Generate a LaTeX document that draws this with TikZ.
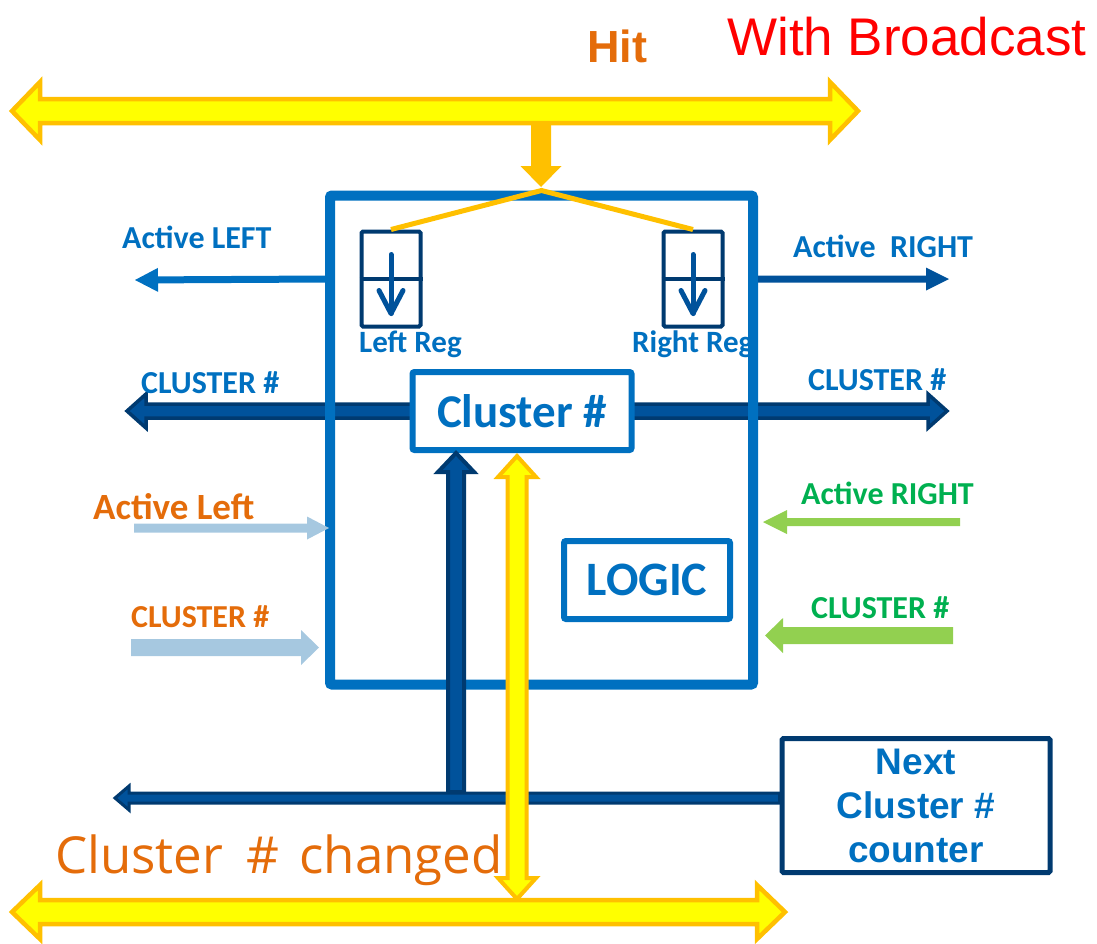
\documentclass[tikz,border=0pt]{standalone}
\usepackage{fontspec}
\setmainfont{Carlito}
\newfontfamily\arialfont{Liberation Sans}
\newfontfamily\humanist{Open Sans}
\usetikzlibrary{calc,arrows.meta}

\definecolor{boxblue}{HTML}{0070C0}
\definecolor{navy}{HTML}{003A70}
\definecolor{midblue}{HTML}{00529B}
\definecolor{busyellow}{HTML}{FFFF00}
\definecolor{busorange}{HTML}{FFC000}
\definecolor{txtorange}{HTML}{E46C0A}
\definecolor{paleblue}{HTML}{A6C8E0}
\definecolor{txtgreen}{HTML}{00B050}
\definecolor{palegreen}{HTML}{92D050}

\newcommand\fs[1]{\fontsize{#1}{#1}\selectfont}

% block arrow with one head: [style]{from}{to}{shaft half width}{head half width}{head length}
\newcommand\sarrow[6][]{%
  \coordinate (saC) at ($(#3)!#6!(#2)$);
  \path[#1] ($(#2)!#4!90:(#3)$) -- ($(saC)!#4!-90:(#2)$) -- ($(saC)!#5!-90:(#2)$) -- (#3)
    -- ($(saC)!#5!90:(#2)$) -- ($(saC)!#4!90:(#2)$) -- ($(#2)!#4!-90:(#3)$) -- cycle;}

% block arrow with heads at both ends
\newcommand\darrow[6][]{%
  \coordinate (daA) at ($(#2)!#6!(#3)$);
  \coordinate (daB) at ($(#3)!#6!(#2)$);
  \path[#1] (#2) -- ($(daA)!#5!90:(#3)$) -- ($(daA)!#4!90:(#3)$) -- ($(daB)!#4!-90:(#2)$)
    -- ($(daB)!#5!-90:(#2)$) -- (#3) -- ($(daB)!#5!90:(#2)$) -- ($(daB)!#4!90:(#2)$)
    -- ($(daA)!#4!-90:(#3)$) -- ($(daA)!#5!-90:(#3)$) -- cycle;}

% register with its shift arrow: name, centre
\newcommand\register[2]{%
  \node[regbox] (#1) at (#2) {};
  \draw[navy, line width=4pt] (#1.west) -- (#1.east);
  \draw[regarrow] ($(#1.north)+(0,25)$) -- ($(#1.south)+(0,-15)$);
  \draw[regarrow] ($(#1.south)+(-12,-38)$) -- ($(#1.south)+(0,-15)$) -- ($(#1.south)+(12,-38)$);}

\tikzset{
  yellowbus/.style={fill=busyellow, draw=busorange, line width=4.5pt},
  darkbus/.style={fill=midblue, draw=navy, line width=4pt},
  lbl/.style={inner sep=0pt, anchor=base west},
  regbox/.style={draw=navy, line width=4pt, rounded corners=1.5pt, minimum width=59pt, minimum height=95pt, inner sep=0pt},
  regarrow/.style={draw=midblue, line width=5pt, line cap=round, line join=round},
  framebox/.style={draw=boxblue, line width=6pt, rounded corners=2pt, fill=white, inner sep=0pt, text=boxblue},
}

\begin{document}
\begin{tikzpicture}[x=1pt, y=-1pt]
\useasboundingbox (0,0) rectangle (1097,943);

% ---------- headings ----------
\node[inner sep=0pt, anchor=base, text=txtorange] (hit) at (617,62) {\arialfont\bfseries\fs{45}Hit};
\node[lbl, text=red] (bcast) at (727,55) {\arialfont\fs{53}With Broadcast};

% ---------- registers ----------
\register{lreg}{391,279}
\register{rreg}{693,279}
\node[lbl, text=boxblue] (lregl) at (359,352) {\bfseries\fs{31}Left Reg};
\node[lbl, text=boxblue] (rregl) at (632,352) {\bfseries\fs{31}Right Reg};

% cluster number buses leaving the cell (under the frame)
\coordinate (clusterL) at (127,411);
\coordinate (clusterR) at (947,411);
\coordinate (clW) at (413,411);
\coordinate (clE) at (631,411);
\sarrow[darkbus, line width=3.5pt]{clW}{clusterL}{7pt}{17pt}{19pt}
\sarrow[darkbus, line width=3.5pt]{clE}{clusterR}{7pt}{17pt}{19pt}

% cell frame
\node[draw=boxblue, line width=10pt, rounded corners=2pt, minimum width=423pt, minimum height=489pt, inner sep=0pt] (core) at (541.5,440) {};

% hit fan-out to the registers
\draw[busorange, line width=5pt, line join=miter] (lreg.north) -- (core.north) -- (rreg.north);

\node[framebox, minimum width=219pt, minimum height=78pt] (cl) at (522,411) {\bfseries\fs{47}Cluster \#};
\node[framebox, minimum width=166pt, minimum height=78pt] (logic) at (647,580) {\bfseries\fs{48}LOGIC};

\node[draw=navy, line width=5pt, rounded corners=1.5pt, minimum width=268pt, minimum height=134pt, inner sep=0pt,
      text=boxblue, align=center, font=\arialfont\bfseries\fontsize{37}{44}\selectfont] (next) at (916,805.5)
      {Next\\Cluster \#\\counter};

% active signals out of the cell
\coordinate (actL) at (135,280);
\coordinate (actR) at (949,279);
\sarrow[fill=boxblue]{core.west |- lreg.center}{actL}{3.5pt}{12pt}{23pt}
\sarrow[fill=midblue]{core.east |- rreg.center}{actR}{3.5pt}{11.5pt}{23pt}

% labels
\node[lbl, text=boxblue] (actLl) at (122,248) {\bfseries\fs{32}Active LEFT};
\node[lbl, text=boxblue] (actRl) at (793,257) {\bfseries\fs{32}Active\ \ RIGHT};
\node[lbl, text=boxblue] (cLl) at (141,393) {\bfseries\fs{32}CLUSTER \#};
\node[lbl, text=boxblue] (cRl) at (808,390) {\bfseries\fs{32}CLUSTER \#};

% inputs from the left neighbour
\node[lbl, text=txtorange] (inAl) at (93,519) {\bfseries\fs{37}Active Left};
\node[lbl, text=txtorange] (inCl) at (131,627) {\bfseries\fs{32}CLUSTER \#};
\coordinate (inAs) at (134,528);
\coordinate (inAe) at (329,528);
\coordinate (inCs) at (131,647.5);
\coordinate (inCe) at (319,647.5);
\sarrow[fill=paleblue]{inAs}{inAe}{4.5pt}{11.5pt}{22pt}
\sarrow[fill=paleblue]{inCs}{inCe}{8.5pt}{17.5pt}{18pt}

% inputs from the right neighbour
\node[lbl, text=txtgreen] (inAr) at (801,504) {\bfseries\fs{32}Active RIGHT};
\node[lbl, text=txtgreen] (inCr) at (811,618) {\bfseries\fs{32}CLUSTER \#};
\coordinate (inRAs) at (960,522);
\coordinate (inRAe) at (763,522);
\coordinate (inRCs) at (953,635.5);
\coordinate (inRCe) at (765,635.5);
\sarrow[fill=palegreen]{inRAs}{inRAe}{4pt}{12pt}{24pt}
\sarrow[fill=palegreen]{inRCs}{inRCe}{8.5pt}{17.5pt}{18pt}

% next cluster number bus
\coordinate (nextOut) at ($(next.west)+(0,-7.5)$);
\coordinate (busEnd) at (115,798);
\coordinate (busTap) at (456,792);
\sarrow[darkbus]{busTap}{cl.south -| busTap}{8pt}{18pt}{19pt}
\sarrow[darkbus, line width=3pt]{nextOut}{busEnd}{5pt}{12pt}{14pt}

% top broadcast bus
\coordinate (topL) at (12,111);
\coordinate (topR) at (858,111);
\darrow[yellowbus]{topL}{topR}{12pt}{29pt}{28pt}
\coordinate (hitFrom) at (541,124);
\coordinate (hitTo) at (541,187);
\sarrow[fill=busorange]{hitFrom}{hitTo}{10pt}{20.5pt}{21pt}

% bottom broadcast bus
\node[lbl, text=txtorange] (chg) at (55,873) {\humanist\fs{51}Cluster\hspace{0.45em}\#\hspace{0.4em}changed};
\coordinate (botL) at (12,912);
\coordinate (botR) at (785,912);
\darrow[yellowbus]{botL}{botR}{12pt}{27pt}{28pt}
\coordinate (chgTop) at ($(cl.south)+(-5,3)$);
\coordinate (chgBot) at (517,899);
\darrow[yellowbus, line width=4pt]{chgTop}{chgBot}{9.5pt}{19pt}{21pt}

\end{tikzpicture}
\end{document}
